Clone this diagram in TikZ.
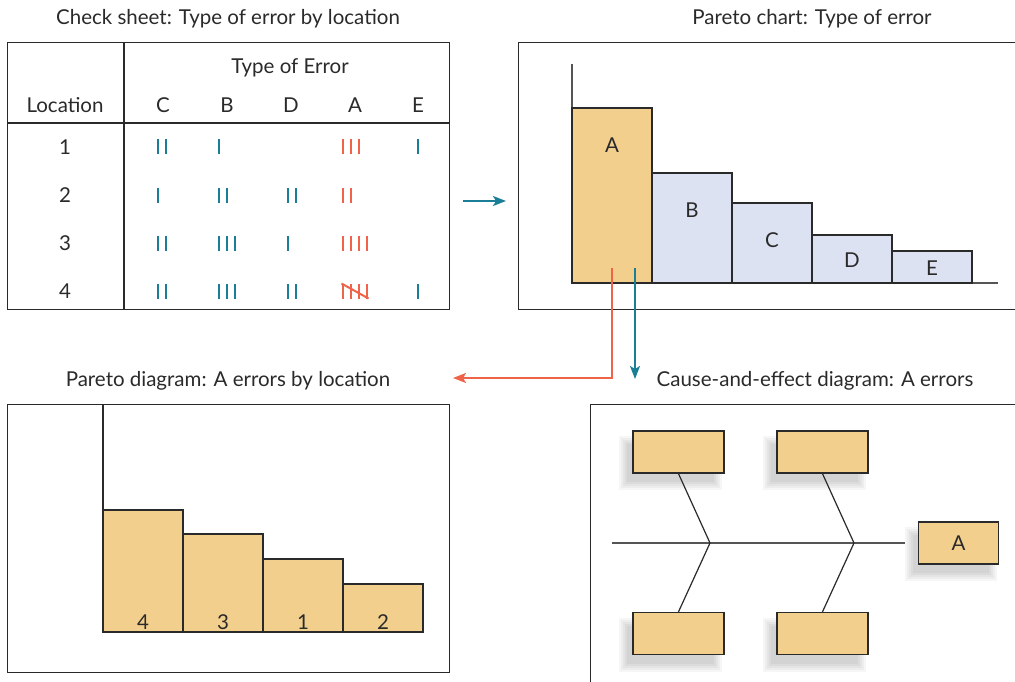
\documentclass[tikz,border=0pt]{standalone}
\usepackage{fontspec}
\setmainfont{Lato}
\usetikzlibrary{arrows.meta}
\definecolor{tealC}{HTML}{1B7E97}
\definecolor{redC}{HTML}{EF6448}
\definecolor{tanC}{HTML}{F2CF8D}
\definecolor{lblueC}{HTML}{DCE2F1}
\definecolor{inkC}{HTML}{2A2A2A}
\definecolor{axisC}{HTML}{555555}
% soft shadow: centre x, centre y, width, height
\newcommand\fishshadow[4]{%
  \foreach \r in {-2,0,...,6}{
    \fill[black, opacity=0.035]
      ({#1-8-#3/2-\r},{#2+11-#4/2-\r}) rectangle ({#1-8+#3/2+\r},{#2+11+#4/2+\r});
  }%
}
\begin{document}
\begin{tikzpicture}[x=1pt,y=-1pt,
  every node/.style={font=\fontsize{20.5}{23}\selectfont, text=inkC, inner sep=0pt},
  panel/.style={draw=inkC, line width=1.4pt, fill=white},
  bar/.style={draw=inkC, line width=1.4pt},
  tick/.style={line width=2pt},
  fishbox/.style={draw=inkC, line width=1.4pt, fill=tanC, minimum width=91pt, minimum height=42pt},
  bone/.style={draw=inkC, line width=1.2pt},
  tealarrow/.style={draw=tealC, line width=2pt, -{Stealth[length=13pt,width=10pt,inset=3pt]}},
  redarrow/.style={draw=redC, line width=2pt, -{Stealth[length=13pt,width=10pt,inset=3pt]}}
]
\useasboundingbox (0,0) rectangle (1015,682);
\clip (0,0) rectangle (1015,682);

% ---------- Check sheet ----------
\node (t1) at (228,19) {Check sheet: Type of error by location};
\node[panel, minimum width=442pt, minimum height=267pt, anchor=north west] (check) at (7,42) {};
\draw[inkC, line width=1.4pt] (124,42) -- (124,309);
\draw[inkC, line width=1.4pt] (7,123) -- (449,123);
\node (toe) at (290,68) {Type of Error};
\node (loc) at (65,105) {Location};
\node (hC) at (163,105) {C};
\node (hB) at (227,105) {B};
\node (hD) at (291,105) {D};
\node (hA) at (355,105) {A};
\node (hE) at (418,105) {E};
\node (r1) at (65,147) {1};
\node (r2) at (65,195) {2};
\node (r3) at (65,243) {3};
\node (r4) at (65,291) {4};
% tallies: x start, row y, count, colour
\foreach \x/\y/\n/\c in {158/147/2/tealC, 219/147/1/tealC, 343/147/3/redC, 418/147/1/tealC,
  158/195/1/tealC, 219/195/2/tealC, 288/195/2/tealC, 343/195/2/redC,
  158/243/2/tealC, 219/243/3/tealC, 288/243/1/tealC, 343/243/4/redC,
  158/291/2/tealC, 219/291/3/tealC, 288/291/2/tealC, 343/291/4/redC, 418/291/1/tealC}{
  \foreach \i in {1,...,\n}{
    \draw[\c, tick] ({\x+8*(\i-1)},\y-7.5) -- ++(0,15);
  }
}
\draw[redC, tick] (341.5,283.5) -- (368.5,298.5);

% ---------- Pareto chart ----------
\node (t2) at (812,19) {Pareto chart: Type of error};
\node[panel, minimum width=520pt, minimum height=267pt, anchor=north west] (pchart) at (518,42) {};
\draw[axisC, line width=1.4pt] (572,64) -- (572,283) -- (998,283);
\draw[bar, fill=tanC] (572,108) rectangle (652,283);
\draw[bar, fill=lblueC] (652,173) rectangle (732,283);
\draw[bar, fill=lblueC] (732,203) rectangle (812,283);
\draw[bar, fill=lblueC] (812,235) rectangle (892,283);
\draw[bar, fill=lblueC] (892,251) rectangle (972,283);
\node (lA) at (612,145) {A};
\node (lB) at (692,210) {B};
\node (lC) at (772,240) {C};
\node (lD) at (852,260) {D};
\node (lE) at (932,268) {E};

% arrows
\coordinate (a1s) at (463,201);
\coordinate (a1e) at (506,201);
\draw[tealarrow] (a1s) -- (a1e);
\coordinate (rs) at (612,268);
\coordinate (rc) at (612,378);
\coordinate (re) at (453,378);
\draw[redarrow] (rs) -- (rc) -- (re);
\coordinate (ts) at (635,268);
\coordinate (te) at (635,379);
\draw[tealarrow] (ts) -- (te);

% ---------- Pareto diagram ----------
\node (t3) at (228,381) {Pareto diagram: A errors by location};
\node[panel, minimum width=442pt, minimum height=268pt, anchor=north west] (pdiag) at (7,404) {};
\draw[inkC, line width=1.4pt] (103,404) -- (103,632);
\draw[bar, fill=tanC] (103,510) rectangle (183,632);
\draw[bar, fill=tanC] (183,534) rectangle (263,632);
\draw[bar, fill=tanC] (263,559) rectangle (343,632);
\draw[bar, fill=tanC] (343,584) rectangle (423,632);
\node (b4) at (143,622) {4};
\node (b3) at (223,622) {3};
\node (b1) at (303,622) {1};
\node (b2) at (383,622) {2};

% ---------- Cause-and-effect diagram ----------
\node (t4) at (815,381) {Cause-and-effect diagram: A errors};
\node[panel, minimum width=450pt, minimum height=300pt, anchor=north west] (cediag) at (590,404) {};
\coordinate (sp0) at (612,543);
\coordinate (j1) at (710,543);
\coordinate (j2) at (854,543);
\coordinate (sp1) at (905,543);
\draw[axisC, line width=2pt] (sp0) -- (sp1);
\fishshadow{678.5}{452}{91}{42}
\fishshadow{822.5}{452}{91}{42}
\fishshadow{678.5}{633.5}{91}{42}
\fishshadow{822.5}{633.5}{91}{42}
\fishshadow{958.5}{543}{80}{42}
\node[fishbox] (ftl) at (678.5,452) {};
\node[fishbox] (ftr) at (822.5,452) {};
\node[fishbox] (fbl) at (678.5,633.5) {};
\node[fishbox] (fbr) at (822.5,633.5) {};
\node[fishbox, minimum width=80pt] (fA) at (958.5,543) {A};
\draw[bone] (ftl.south) -- (j1) -- (fbl.north);
\draw[bone] (ftr.south) -- (j2) -- (fbr.north);
\end{tikzpicture}
\end{document}
